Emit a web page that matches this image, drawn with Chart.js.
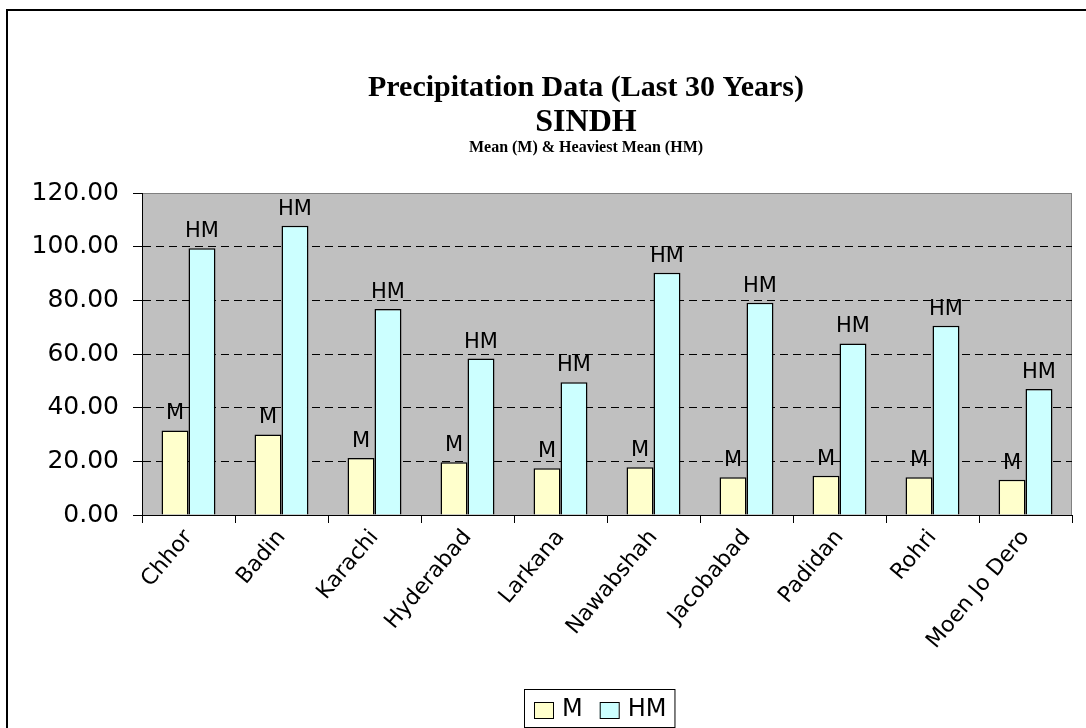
<!DOCTYPE html>
<html>
<head>
<meta charset="utf-8">
<script src="https://cdn.jsdelivr.net/npm/chart.js@4/dist/chart.umd.min.js"></script>
<style>
  html, body { margin: 0; padding: 0; background: #ffffff; }
  #wrap { width: 1086px; height: 728px; position: relative; }
</style>
</head>
<body>
<div id="wrap"><canvas id="c" width="1086" height="728"></canvas></div>
<script>
const titleLines = ["Precipitation Data (Last 30 Years)", "SINDH"];
const subtitleText = "Mean (M) & Heaviest Mean (HM)";
const categories = ["Chhor", "Badin", "Karachi", "Hyderabad", "Larkana", "Nawabshah", "Jacobabad", "Padidan", "Rohri", "Moen Jo Dero"];
const seriesNames = ["M", "HM"];
const meanValues = [31.5, 30.0, 21.2, 19.7, 17.4, 17.8, 14.1, 14.6, 14.1, 13.1];
const heaviestValues = [99.4, 107.8, 76.8, 58.3, 49.5, 90.3, 79.1, 63.9, 70.5, 47.0];
const yMin = 0, yMax = 120, yStep = 20;

const SANS = '"DejaVu Sans", "Liberation Sans", Arial, sans-serif';
const SERIF = '"Liberation Serif", "DejaVu Serif", serif';

const framePlugin = {
  id: 'frame',
  beforeDraw(chart) {
    const ctx = chart.ctx;
    const a = chart.chartArea;
    ctx.save();
    ctx.fillStyle = '#ffffff';
    ctx.fillRect(0, 0, chart.width, chart.height);
    ctx.strokeStyle = '#000000';
    ctx.lineWidth = 2;
    ctx.strokeRect(7, 10, 1200, 800);
    ctx.fillStyle = '#C0C0C0';
    ctx.fillRect(a.left, a.top, a.right - a.left, a.bottom - a.top);
    ctx.strokeStyle = '#808080';
    ctx.lineWidth = 1;
    ctx.strokeRect(a.left + 0.5, a.top + 0.5, a.right - a.left - 1, a.bottom - a.top);
    // titles
    ctx.fillStyle = '#000000';
    ctx.textAlign = 'center';
    ctx.textBaseline = 'alphabetic';
    const cx = 586;
    ctx.font = 'bold 30px ' + SERIF;
    ctx.fillText(titleLines[0], cx, 96);
    ctx.font = 'bold 32px ' + SERIF;
    ctx.fillText(titleLines[1], cx, 131);
    ctx.font = 'bold 16px ' + SERIF;
    ctx.fillText(subtitleText, cx, 152);
    ctx.restore();
  },
  afterDatasetsDraw(chart) {
    const ctx = chart.ctx;
    ctx.save();
    ctx.fillStyle = '#000000';
    ctx.font = '21px ' + SANS;
    ctx.textAlign = 'center';
    ctx.textBaseline = 'bottom';
    chart.data.datasets.forEach((ds, i) => {
      const meta = chart.getDatasetMeta(i);
      meta.data.forEach(el => {
        ctx.fillText(ds.label, el.x, el.y - 6);
      });
    });
    // legend
    const lx = 524, ly = 689, lh = 38;
    ctx.font = '24px ' + SANS;
    let w = 10;
    chart.data.datasets.forEach((ds, i) => {
      w += 19 + 9 + ctx.measureText(ds.label).width + (i < chart.data.datasets.length - 1 ? 17 : 8);
    });
    ctx.fillStyle = '#ffffff';
    ctx.fillRect(lx, ly, w, lh);
    ctx.strokeStyle = '#000000';
    ctx.lineWidth = 1;
    ctx.strokeRect(lx + 0.5, ly + 0.5, w, lh);
    ctx.textAlign = 'left';
    ctx.textBaseline = 'middle';
    let x = lx + 10;
    chart.data.datasets.forEach((ds) => {
      ctx.fillStyle = ds.backgroundColor;
      ctx.fillRect(x, ly + 13, 19, 16);
      ctx.strokeStyle = '#000000';
      ctx.strokeRect(x + 0.5, ly + 13.5, 19, 16);
      ctx.fillStyle = '#000000';
      ctx.fillText(ds.label, x + 28, ly + 21);
      x += 28 + ctx.measureText(ds.label).width + 17;
    });
    ctx.restore();
  }
};

new Chart(document.getElementById('c'), {
  type: 'bar',
  data: {
    labels: categories,
    datasets: [
      { label: seriesNames[0], data: meanValues, backgroundColor: '#FFFFCC', borderColor: '#000000', borderWidth: 1.5 },
      { label: seriesNames[1], data: heaviestValues, backgroundColor: '#CCFFFF', borderColor: '#000000', borderWidth: 1.5 }
    ]
  },
  options: {
    responsive: false,
    animation: false,
    devicePixelRatio: 1,
    layout: { padding: { top: 193, right: 14, left: 0, bottom: 0 } },
    datasets: { bar: { categoryPercentage: 0.58, barPercentage: 1.0 } },
    plugins: { legend: { display: false }, title: { display: false }, tooltip: { enabled: false } },
    scales: {
      x: {
        afterFit(s) { s.height = 213; },
        grid: { display: true, drawOnChartArea: false, offset: true, tickLength: 8, tickColor: '#000000', color: '#000000' },
        border: { display: true, color: '#000000', width: 1 },
        ticks: { color: '#000000', font: { family: SANS, size: 22 }, maxRotation: 50, minRotation: 50, padding: 2, autoSkip: false }
      },
      y: {
        min: yMin, max: yMax,
        afterFit(s) { s.width = 142; },
        grid: {
          color: (c) => (c.tick && (c.tick.value === yMin || c.tick.value === yMax)) ? 'rgba(0,0,0,0)' : '#000000',
          tickColor: '#000000',
          tickBorderDash: [],
          tickLength: 9,
          lineWidth: 1
        },
        border: { display: true, color: '#000000', width: 1, dash: [8, 5] },
        ticks: { stepSize: yStep, color: '#000000', font: { family: SANS, size: 25 }, padding: 14, callback: (v) => Number(v).toFixed(2) }
      }
    }
  },
  plugins: [framePlugin]
});
</script>
</body>
</html>
